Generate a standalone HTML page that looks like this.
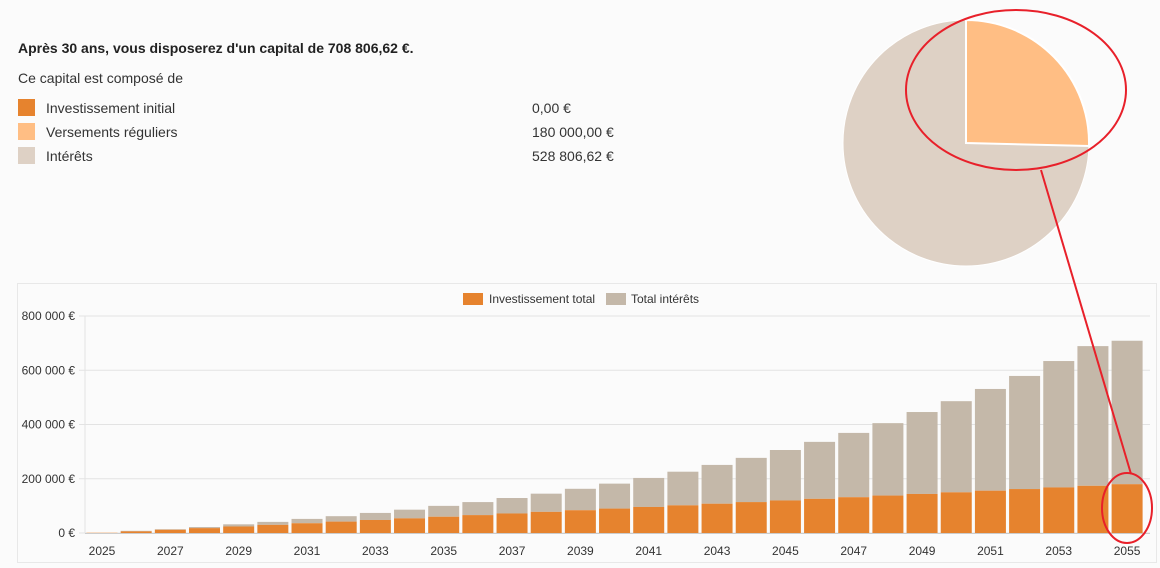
<!DOCTYPE html>
<html><head><meta charset="utf-8"><style>
html,body{margin:0;padding:0;background:#fbfbfb;width:1160px;height:568px;overflow:hidden;font-family:"Liberation Sans",Arial,sans-serif;color:#222}
</style></head><body>
<svg id="s" width="1160" height="568" xmlns="http://www.w3.org/2000/svg" style="position:absolute;left:0;top:0;font-family:'Liberation Sans',Arial,sans-serif">
<text x="18" y="53" font-size="14" font-weight="bold" fill="#222">Après 30 ans, vous disposerez d'un capital de 708 806,62 €.</text>
<text x="18" y="83" font-size="14" fill="#333">Ce capital est composé de</text>
<rect x="18" y="99" width="17" height="17" fill="#e6832e"/>
<rect x="18" y="123" width="17" height="17" fill="#ffbe84"/>
<rect x="18" y="147" width="17" height="17" fill="#ded1c5"/>
<text x="46" y="113" font-size="14" fill="#333">Investissement initial</text>
<text x="46" y="137" font-size="14" fill="#333">Versements réguliers</text>
<text x="46" y="161" font-size="14" fill="#333">Intérêts</text>
<text x="532" y="113" font-size="14" fill="#333">0,00 €</text>
<text x="532" y="137" font-size="14" fill="#333">180 000,00 €</text>
<text x="532" y="161" font-size="14" fill="#333">528 806,62 €</text>
<circle cx="966" cy="143" r="123" fill="#ded1c5" stroke="#fff" stroke-width="1"/>
<path d="M966 143 L966 20 A123 123 0 0 1 1089 146 Z" fill="#ffbe84" stroke="#fff" stroke-width="2"/>
<rect x="17.5" y="283.5" width="1139" height="279" fill="#fbfbfb" stroke="#e8e8e8"/>
<rect x="463" y="293" width="20" height="12" fill="#e6832e"/>
<text x="489" y="303" font-size="12" fill="#333">Investissement total</text>
<rect x="606" y="293" width="20" height="12" fill="#c4b8a9"/>
<text x="631" y="303" font-size="12" fill="#333">Total intérêts</text>
<g id="g"></g>
<ellipse cx="1016" cy="90" rx="110" ry="80" fill="none" stroke="#e8202a" stroke-width="2"/>
<line x1="1041" y1="170" x2="1131" y2="474" stroke="#e8202a" stroke-width="2"/>
<ellipse cx="1127" cy="508" rx="25" ry="35" fill="none" stroke="#e8202a" stroke-width="2"/>
</svg>
<script>
var g=document.getElementById('g'),h='';
var y0=533,k=54.25/200000;
var labels=['0 €','200 000 €','400 000 €','600 000 €','800 000 €'];
for(var i=0;i<5;i++){var y=y0-i*54.25;
h+='<line x1="79" x2="1150" y1="'+y+'" y2="'+y+'" stroke="#e3e3e3"/>';
h+='<text x="75" y="'+(y+4)+'" font-size="12" text-anchor="end" fill="#333">'+labels[i]+'</text>';}
h+='<line x1="85" x2="85" y1="316" y2="533" stroke="#e3e3e3"/>';
var tot=[2,8,14,22,32,41,52,62,74,86,100,114,129,145,163,182,203,226,251,277,306,336,369,405,446,486,531,579,634,689,708.8];
for(var j=0;j<=30;j++){
var cx=102+j*34.17, inv=(j==0?1.5:(j==30?180:6*j)), t=tot[j]*1000, iv=inv*1000;
var x=cx-15.5, w=31;
var ht=t*k, hi=iv*k;
h+='<rect x="'+x+'" y="'+(y0-ht)+'" width="'+w+'" height="'+(ht-hi)+'" fill="#c4b8a9"/>';
h+='<rect x="'+x+'" y="'+(y0-hi)+'" width="'+w+'" height="'+hi+'" fill="'+(j==0?'#ffbe84':'#e6832e')+'"/>';
if(j%2==0)h+='<text x="'+cx+'" y="555" font-size="12" text-anchor="middle" fill="#333">'+(2025+j)+'</text>';
}
h+='<line x1="85" x2="1150" y1="533.5" y2="533.5" stroke="#ccc"/>';
g.innerHTML=h;
</script>
</body></html>
